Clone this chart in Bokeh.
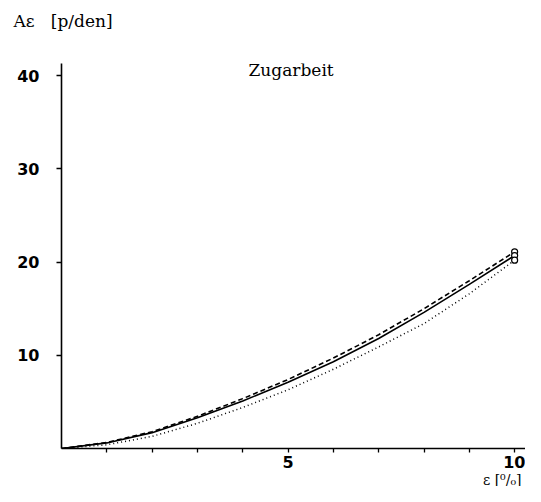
from bokeh.plotting import figure
from bokeh.models import FixedTicker, Label, Range1d, Title
from bokeh.embed import file_html
from bokeh.resources import INLINE

# strain in %
eps = [0, 1, 2, 3, 4, 5, 6, 7, 8, 9, 10]
# work of tension [p/den]
solid = [0, 0.6, 1.7, 3.3, 5.1, 7.1, 9.3, 11.8, 14.6, 17.6, 20.7]
dashed = [0, 0.65, 1.8, 3.45, 5.35, 7.4, 9.7, 12.2, 15.0, 18.0, 21.1]
dotted = [0, 0.4, 1.3, 2.7, 4.4, 6.3, 8.5, 10.9, 13.4, 16.6, 20.2]

x_ticks = [1, 2, 3, 4, 5, 6, 7, 8, 9, 10]
x_tick_labels = {1: "", 2: "", 3: "", 4: "", 5: "5", 6: "", 7: "", 8: "", 9: "", 10: "10"}
y_ticks = [10, 20, 30, 40]

p = figure(width=525, height=486, output_backend="svg", toolbar_location=None,
           x_range=Range1d(0, 10.24), y_range=Range1d(0, 41.3),
           min_border_left=61, min_border_right=0, min_border_top=63, min_border_bottom=0)
p.outline_line_color = None
p.grid.visible = False
p.background_fill_color = "white"

for ax in (p.xaxis, p.yaxis):
    ax.axis_line_color = "black"
    ax.axis_line_width = 1.6
    ax.major_tick_line_color = "black"
    ax.major_tick_line_width = 1.3
    ax.minor_tick_line_color = None
    ax.major_tick_in = 0
    ax.major_label_text_font = "DejaVu Sans"
    ax.major_label_text_font_style = "bold"
    ax.major_label_text_font_size = "16px"
    ax.major_label_text_color = "black"

p.xaxis.ticker = FixedTicker(ticks=x_ticks)
p.xaxis.major_label_overrides = x_tick_labels
p.xaxis.major_tick_out = 4
p.xaxis.major_label_standoff = 3

p.yaxis.ticker = FixedTicker(ticks=y_ticks)
p.yaxis.major_tick_out = 5
p.yaxis.major_label_standoff = 17

p.line(eps, solid, line_color="black", line_width=1.6)
p.line(eps, dashed, line_color="black", line_width=1.6, line_dash="5 3")
p.line(eps, dotted, line_color="black", line_width=1.5, line_dash="1 3")

ends_x = [eps[-1], eps[-1], eps[-1]]
ends_y = [dashed[-1], solid[-1], dotted[-1]]
p.scatter(ends_x, ends_y, size=6, marker="circle", fill_color="white",
          line_color="black", line_width=1.2)

# spacer (nearest to the frame) so the quantity label sits at the very top
p.add_layout(Title(text="\u00a0", standoff=30, text_font_size="1px",
                   text_font_style="normal"), "above")
# top-left quantity label
p.add_layout(Title(text="Aε\u00a0\u00a0\u00a0[p/den]", align="left", offset=-48, standoff=0,
                   text_font="DejaVu Serif", text_font_size="17px",
                   text_font_style="normal", text_color="black"), "above")

# unit label under the x axis, right-aligned
p.add_layout(Title(text="ε [⁰/₀]", align="right", offset=4, standoff=-2,
                   text_font="DejaVu Serif", text_font_size="14px",
                   text_font_style="normal", text_color="black"), "below")

# in-frame caption
p.add_layout(Label(x=(248 - 61) / 45.3, y=40.6, text="Zugarbeit",
                   text_font="DejaVu Serif", text_font_size="17px",
                   text_color="black", text_baseline="alphabetic", text_align="left"))

open("out.html", "w").write(file_html(p, INLINE))
